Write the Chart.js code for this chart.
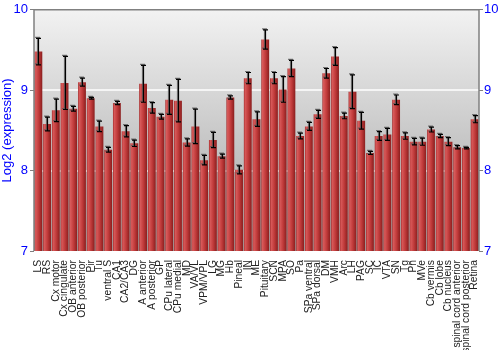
<!DOCTYPE html>
<html>
<head>
<meta charset="utf-8">
<script src="https://cdn.jsdelivr.net/npm/chart.js@4"></script>
<style>
  body { margin: 0; background: #fff; }
  #wrap { width: 500px; height: 350px; }
</style>
</head>
<body>
<div id="wrap"><canvas id="myChart" width="500" height="350"></canvas></div>
<script>
const regions = ['LS', 'RS', 'Cx motor', 'Cx cingulate', 'OB anterior', 'OB posterior', 'Pir', 'Tu',
    'ventral S', 'CA1', 'CA2/CA3', 'DG', 'A anterior', 'A posterior', 'GP', 'CPu lateral', 'CPu medial',
    'MD', 'VA/VL', 'VPM/VPL', 'LG', 'MG', 'Hb', 'Pineal', 'IN', 'ME', 'Pituitary', 'SCN', 'MPA', 'SO',
    'Pa', 'SPa ventral', 'SPa dorsal', 'DM', 'VMH', 'Arc', 'LH', 'PAG', 'SC', 'IC', 'VTA', 'SN', 'Tg',
    'Pn', 'MVe', 'Cb vermis', 'Cb lobe', 'Cb nucleus', 'spinal cord anterior', 'spinal cord posterior', 'Retina'];

const expression = [9.48, 8.58, 8.75, 9.09, 8.77, 9.10, 8.90, 8.55, 8.26, 8.84,
    8.49, 8.34, 9.08, 8.78, 8.67, 8.88, 8.87, 8.35, 8.55, 8.13,
    8.38, 8.18, 8.91, 8.01, 9.15, 8.64, 9.63, 9.15, 9.01, 9.27,
    8.43, 8.55, 8.70, 9.21, 9.42, 8.68, 8.98, 8.62, 8.22, 8.43,
    8.45, 8.88, 8.43, 8.36, 8.36, 8.51, 8.43, 8.36, 8.29, 8.28, 8.64];

const errors = [0.165, 0.085, 0.14, 0.33, 0.03, 0.05, 0.01, 0.065, 0.03, 0.02,
    0.07, 0.04, 0.23, 0.065, 0.03, 0.18, 0.265, 0.045, 0.215, 0.06,
    0.095, 0.025, 0.02, 0.05, 0.07, 0.09, 0.12, 0.07, 0.16, 0.10,
    0.035, 0.05, 0.05, 0.06, 0.11, 0.035, 0.21, 0.105, 0.02, 0.055,
    0.075, 0.06, 0.04, 0.04, 0.045, 0.03, 0.02, 0.05, 0.02, 0.01, 0.045];

const yTicks = [7, 8, 9, 10];

// grey gradient behind the plot + frame
const plotBackground = {
    id: 'plotBackground',
    beforeDatasetsDraw(chart) {
        const { ctx, chartArea: a } = chart;
        ctx.save();
        const g = ctx.createLinearGradient(0, a.top, 0, a.bottom);
        g.addColorStop(0, '#f2f2f2');
        g.addColorStop(1, '#a2a2a2');
        ctx.fillStyle = g;
        ctx.fillRect(a.left, a.top, a.right - a.left, a.bottom - a.top);
        // white grid lines at 8 and 9
        const y = chart.scales.y;
        ctx.strokeStyle = 'rgba(255,255,255,0.75)';
        ctx.lineWidth = 2;
        [8, 9].forEach(v => {
            const py = Math.round(y.getPixelForValue(v));
            ctx.beginPath();
            ctx.moveTo(a.left, py);
            ctx.lineTo(a.right, py);
            ctx.stroke();
        });
        ctx.restore();
    },
    afterDatasetsDraw(chart) {
        const { ctx, chartArea: a } = chart;
        ctx.save();
        ctx.strokeStyle = '#808080';
        ctx.lineWidth = 1.5;
        ctx.beginPath();
        ctx.moveTo(a.left, a.bottom);
        ctx.lineTo(a.left, a.top);
        ctx.lineTo(a.right, a.top);
        ctx.lineTo(a.right, a.bottom);
        ctx.stroke();
        ctx.restore();
    }
};

// error bars
const errorBars = {
    id: 'errorBars',
    afterDatasetsDraw(chart) {
        const { ctx } = chart;
        const y = chart.scales.y;
        const meta = chart.getDatasetMeta(0);
        ctx.save();
        meta.data.forEach((bar, i) => {
            const x = Math.round(bar.x) + 0.5;
            const hi = y.getPixelForValue(expression[i] + errors[i]);
            const lo = y.getPixelForValue(expression[i] - errors[i]);
            [['rgba(90,90,90,0.8)', -1], ['#000', 0]].forEach(([c, off]) => {
                ctx.strokeStyle = c;
                ctx.lineWidth = 1.2;
                ctx.beginPath();
                ctx.moveTo(x + off, hi + off);
                ctx.lineTo(x + off, lo + off);
                ctx.moveTo(x - 2.5 + off, hi + off);
                ctx.lineTo(x + 2.5 + off, hi + off);
                ctx.moveTo(x - 2.5 + off, lo + off);
                ctx.lineTo(x + 2.5 + off, lo + off);
                ctx.stroke();
            });
        });
        ctx.restore();
    }
};

function barFill(context) {
    const chart = context.chart;
    const xs = chart.scales.x;
    if (!xs || context.dataIndex === undefined) return '#b83232';
    const cx = xs.getPixelForValue(context.dataIndex);
    const w = (xs.width / regions.length) * 0.9;
    if (!isFinite(cx) || !isFinite(w) || w <= 0) return '#b83232';
    const g = chart.ctx.createLinearGradient(cx - w / 2, 0, cx + w / 2, 0);
    g.addColorStop(0, '#a02828');
    g.addColorStop(0.15, '#d85a5a');
    g.addColorStop(0.55, '#c03a3a');
    g.addColorStop(1, '#8a1e1e');
    return g;
}

const config = {
    type: 'bar',
    data: {
        labels: regions,
        datasets: [{
            label: 'Log2 (expression)',
            data: expression,
            backgroundColor: barFill,
            borderWidth: 0,
            barPercentage: 0.9,
            categoryPercentage: 1.0
        }]
    },
    options: {
        responsive: false,
        animation: false,
        layout: { padding: { top: 9, left: 0, right: 0, bottom: 0 } },
        scales: {
            x: {
                grid: { display: false },
                border: { display: false },
                ticks: {
                    autoSkip: false,
                    minRotation: 90,
                    maxRotation: 90,
                    padding: 1,
                    color: '#222',
                    font: { family: 'Liberation Sans, Arial', size: 10.3 }
                },
                afterFit(scale) { scale.height = 99; }
            },
            y: {
                min: 7,
                max: 10,
                position: 'left',
                afterBuildTicks(scale) { scale.ticks = yTicks.map(v => ({ value: v })); },
                grid: { drawOnChartArea: false, drawTicks: true, tickLength: 4, tickColor: '#808080' },
                border: { display: false },
                ticks: {
                    padding: 2,
                    color: '#0000ff',
                    font: { family: 'Liberation Sans, Arial', size: 13 }
                },
                title: {
                    display: true,
                    text: 'Log2 (expression)',
                    color: '#0000ff',
                    padding: { top: 0, bottom: 0 },
                    font: { family: 'Liberation Sans, Arial', size: 13 }
                },
                afterFit(scale) { scale.width = 34; }
            },
            y2: {
                min: 7,
                max: 10,
                position: 'right',
                afterBuildTicks(scale) { scale.ticks = yTicks.map(v => ({ value: v })); },
                grid: { drawOnChartArea: false, drawTicks: true, tickLength: 4, tickColor: '#808080' },
                border: { display: false },
                ticks: {
                    padding: 1,
                    color: '#0000ff',
                    font: { family: 'Liberation Sans, Arial', size: 13 }
                },
                afterFit(scale) { scale.width = 21; }
            }
        },
        plugins: {
            legend: { display: false },
            tooltip: { enabled: false }
        }
    },
    plugins: [plotBackground, errorBars]
};

const ctx = document.getElementById('myChart').getContext('2d');
new Chart(ctx, config);
</script>
</body>
</html>
